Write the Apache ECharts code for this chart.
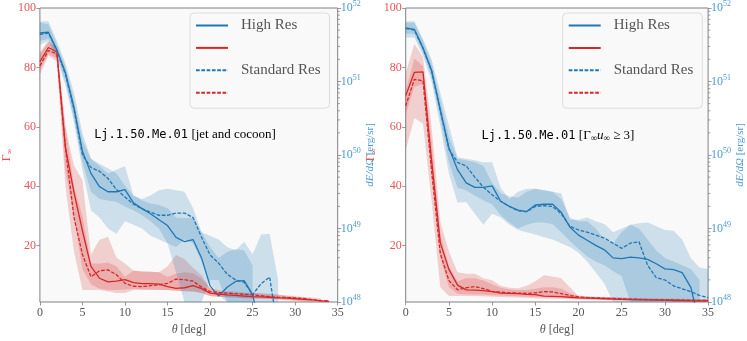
<!DOCTYPE html>
<html>
<head>
<meta charset="utf-8">
<script src="https://cdn.jsdelivr.net/npm/echarts@6/dist/echarts.min.js"></script>
<style>
  html, body { margin: 0; padding: 0; background: #fff; }
  #chart { width: 747px; height: 341px; }
</style>
</head>
<body>
<div id="chart"></div>
<script>
// polar angle, deg
const theta = [0,1,2,3,4,5,6,7,8,9,10,11,12,13,14,15,16,17,18,19,20,21,22,23,24,25,26,27,28,29,30,31,32,33,34,35];

// ---- left panel: jet and cocoon ----
const gamHighL = [81.9,86.7,85.2,53,38,25,13,9,7.8,8,8.5,7.5,7.2,7.2,7,6.2,5.6,5.8,6.5,5.5,4,3.7,3.4,3.2,3.0,2.8,2.7,2.6,2.4,2.3,2.1,1.9,1.7,1.4,1.2,null];
const gamStdL  = [80.5,85.7,84.5,53,29.5,17,9.5,11.5,11.8,10.2,7.3,6.3,6.2,6.5,6.8,7.3,8.7,8.5,8.0,6.0,4.5,4.2,4.0,3.8,3.6,3.4,3.1,2.8,2.6,2.5,2.4,2.2,1.8,1.5,1.3,null];
const gamLoA_L = [79,84.5,83,45,30,12,7,5.5,5,5,5.2,5.5,5.3,5.2,5.1,5,4.8,4.6,4.5,4,3,2.8,2.6,2.5,2.3,2.2,2.1,2,1.9,1.7,1.5,1.3,1.2,null,null,null];
const gamHiA_L = [84.5,88.5,86.5,60,40,30,14,14,14.3,13,9.5,11.5,11.3,11.2,11,9.5,10.5,11,10.7,9,5.6,5,4.6,4.5,4.2,4,3.8,3.6,3.4,3.1,2.8,2.5,2.0,null,null,null];
const gamLoB_L = [77.5,84,82,40,18,5,5,5,4.5,4,4,5,5,5,5,5,4.8,4.6,4.5,4,3,2.8,2.6,2.5,2.3,2.2,2.1,2,1.8,1.6,1.4,1.2,1.1,1,null,null];
const gamHiB_L = [85,89,86.5,60,47,42,17,22,23,16,14,11.6,11.3,11.2,11,13,16.8,15.5,12.5,10,5.6,4.5,4.2,4,4,4,4,3.8,3.5,3.2,2.9,2.7,2.5,2.3,null,null];
// log10 of dE/dOmega [erg/sr]
const dEHighL = [51.66,51.67,51.43,51.12,50.65,50.05,49.75,49.57,49.5,49.5,49.53,49.35,49.27,49.2,49.12,49.04,48.88,48.82,48.85,48.6,48.22,48.08,48.2,48.28,48.29,48.1,47.6,null,null,null,null,null,null,null,null,null];
const dEStdL  = [51.64,51.66,51.42,51.1,50.62,50.0,49.83,49.78,49.68,49.53,49.43,49.33,49.27,49.22,49.18,49.18,49.21,49.21,49.15,48.88,48.64,48.53,48.38,48.3,48.27,48.1,48.25,48.34,47.6,null,null,null,null,null,null,null];
const dELoA_L = [51.55,51.58,51.35,51.0,50.5,49.9,49.5,49.4,49.38,49.36,49.3,49.25,49.18,49.1,49.0,48.8,48.75,48.85,48.8,48.55,48.25,48.1,48,48,48,48,null,null,null,null,null,null,null,null,null,null];
const dEHiA_L = [51.8,51.78,51.5,51.2,50.75,50.2,49.95,49.88,49.82,49.75,49.58,49.45,49.38,49.34,49.32,49.28,49.15,49.14,49.15,48.95,48.75,48.6,48.68,48.72,48.7,48.5,null,null,null,null,null,null,null,null,null,null];
const dELoB_L = [51.5,51.55,51.3,50.95,50.45,49.8,49.25,49.15,49.0,48.93,49.1,49.05,49.0,48.9,48.85,48.8,48.4,48,48,48,48.3,48.3,48,48,48,48,48,48,48,null,null,null,null,null,null,null];
const dEHiB_L = [51.82,51.82,51.55,51.25,50.85,50.3,49.95,49.85,49.75,49.8,49.85,49.45,49.4,49.45,49.52,49.54,49.52,49.5,49.28,48.95,48.9,48.85,48.75,48.7,48.82,48.65,48.92,48.93,48.3,null,null,null,null,null,null,null];

// ---- right panel: Gamma u >= 3 ----
const gamHighR = [70.5,78.3,78.5,48.5,21,12,6.7,5.1,5,4.8,4.5,4,3.9,3.8,3.6,3.5,3.0,2.9,2.8,2.6,2.4,2.3,2.2,2.1,2.0,1.9,1.8,1.7,1.7,1.6,1.6,1.5,1.5,1.4,1.4,1.4];
const gamStdR  = [67,76,75.5,45,17.4,8.2,5.1,5.8,6.2,5.5,4.6,4.3,4.1,4,3.9,4.1,4.5,4.4,3.8,3.2,2.7,2.5,2.4,2.3,2.2,2.1,2.0,1.9,1.8,1.8,1.7,1.7,1.6,1.6,1.5,1.5];
const gamLoA_R = [64,73.5,74.5,44,16,6,3.8,3.6,3.5,3.5,3.3,3.2,3.0,2.9,2.8,2.7,2.6,2.5,2.4,2.2,2.1,2.0,1.9,1.85,1.8,1.75,1.7,1.65,1.6,1.55,1.5,1.45,1.4,1.35,1.3,1.3];
const gamHiA_R = [72,83,80.5,55,24,13,8,9,9,8.2,7,5.8,5.2,5.0,5,5.5,6,6,5.5,4,3,2.8,2.7,2.6,2.5,2.4,2.3,2.2,2.1,2.0,1.95,1.9,1.85,1.8,1.8,1.8];
const gamLoB_R = [52,63,61,35,6,3,3,3,3,2.9,2.8,2.7,2.6,2.5,2.4,2.3,2.2,2.1,2.0,1.9,1.8,1.75,1.7,1.65,1.6,1.55,1.5,1.45,1.4,1.35,1.3,1.25,1.2,1.15,1.1,1.1];
const gamHiB_R = [78,88,83.5,60,28,18,11,10.5,10.5,9,8.3,6.5,5.8,5.6,6.5,8,10,9.6,9,6,3,2.9,2.8,2.7,2.6,2.5,2.4,2.35,2.3,2.25,2.2,2.15,2.1,2.05,2.0,2.0];
const dEHighR = [51.73,51.71,51.46,51.15,50.62,50.1,49.8,49.62,49.56,49.56,49.58,49.37,49.3,49.25,49.23,49.32,49.33,49.33,49.22,49.02,48.91,48.84,48.77,48.71,48.6,48.59,48.61,48.6,48.58,48.52,48.45,48.44,48.4,48.2,47.7,null];
const dEStdR  = [51.72,51.7,51.45,51.14,50.6,50.08,49.9,49.85,49.7,49.56,49.46,49.37,49.3,49.24,49.23,49.3,49.31,49.3,49.2,49.03,48.98,48.95,48.91,48.87,48.8,48.73,48.8,48.82,48.5,48.33,48.3,48.22,48.18,48.14,48.09,48.06];
const dELoA_R = [51.65,51.65,51.4,51.05,50.5,49.9,49.55,49.52,49.45,49.38,49.33,49.18,49.08,49.0,49.05,49.08,49.08,49.06,48.95,48.83,48.72,48.62,48.55,48.5,48.42,48.35,48,48,48,48,48,48,48,48,48,null];
const dEHiA_R = [51.8,51.8,51.55,51.25,50.75,50.25,49.95,49.93,49.9,49.85,49.62,49.48,49.44,49.42,49.5,49.54,49.52,49.5,49.4,49.15,49.1,49.1,49.0,48.85,48.8,48.95,49.05,49.0,48.85,48.7,48.6,48.55,48.5,48.45,48.3,null];
const dELoB_R = [51.6,51.6,51.35,51.0,50.4,49.75,49.35,49.36,49.2,49.05,49.2,49.15,49.05,48.98,48.95,48.92,48.88,48.85,48.8,48.75,48.67,48.55,48.4,48.25,48,48,48,48,48,48,48,48,48,48,48,48];
const dEHiB_R = [51.82,51.82,51.58,51.3,50.85,50.4,49.97,49.95,49.93,49.9,49.9,49.55,49.4,49.5,49.54,49.54,49.52,49.5,49.48,49.12,49.12,49.15,49.1,49.06,48.95,49.0,49.05,49.07,49.08,49.03,48.98,48.97,48.85,48.6,48.47,48.45];

// ticks
const gammaTicks = [20, 40, 60, 80, 100];
const logDecades = [48, 49, 50, 51];
const logMinor = [2, 3, 4, 5, 6, 7, 8, 9];

const RED = '#d62728', BLUE = '#1f77b4';
const RED_T = '#e5545a', BLUE_T = '#4d9bd3';
const SERIF = 'Liberation Serif';
const MONO = 'DejaVu Sans Mono';

const toVal = (v, log) => (v == null ? null : (log ? Math.pow(10, v) : v));

function lineS(name, xi, yi, arr, color, dashed, log) {
  const data = [];
  theta.forEach((t, i) => { if (arr[i] != null) data.push([t, toVal(arr[i], log)]); });
  return {
    type: 'line', name, xAxisIndex: xi, yAxisIndex: yi, data,
    symbol: 'none', z: 5, clip: true,
    lineStyle: { color, width: 1.3, type: dashed ? [3.7, 1.6] : 'solid' },
    itemStyle: { color }
  };
}

function bandS(xi, yi, lo, hi, fill, log) {
  const pts = [];
  theta.forEach((t, i) => {
    if (lo[i] != null && hi[i] != null) pts.push([t, toVal(lo[i], log), toVal(hi[i], log)]);
  });
  return {
    type: 'custom', xAxisIndex: xi, yAxisIndex: yi, data: pts,
    encode: { x: 0, y: [1, 2] }, clip: true, silent: true, z: 2,
    renderItem: (params, api) => {
      if (params.dataIndex !== 0) return null;
      const up = pts.map(p => api.coord([p[0], p[2]]));
      const dn = pts.map(p => api.coord([p[0], p[1]])).reverse();
      return { type: 'polygon', shape: { points: up.concat(dn) }, style: { fill } };
    }
  };
}

function minorTickS(xi, yi) {
  const vals = [];
  logDecades.forEach(d => logMinor.forEach(m => vals.push([35, m * Math.pow(10, d)])));
  return {
    type: 'custom', xAxisIndex: xi, yAxisIndex: yi, data: vals, clip: false, silent: true, z: 3,
    renderItem: (params, api) => {
      const p = api.coord([api.value(0), api.value(1)]);
      return { type: 'line', shape: { x1: p[0], y1: p[1], x2: p[0] + 2.2, y2: p[1] },
        style: { stroke: '#808080', lineWidth: 0.8 } };
    }
  };
}

const RED_F = 'rgba(214,39,40,0.2)', BLUE_F = 'rgba(31,119,180,0.2)';

const chart = echarts.init(document.getElementById('chart'), null, { renderer: 'canvas' });

function xAx(gi) {
  return {
    gridIndex: gi, type: 'value', min: 0, max: 35, interval: 5,
    axisLine: { show: false },
    axisTick: { show: true, inside: false, length: 3.5, lineStyle: { color: '#808080', width: 0.8 } },
    axisLabel: { color: '#555', fontFamily: SERIF, fontSize: 12, margin: 5 },
    splitLine: { show: false },
    name: '{i|θ} [deg]', nameLocation: 'middle', nameGap: 22,
    nameTextStyle: { color: '#555', fontFamily: SERIF, fontSize: 12,
      rich: { i: { fontStyle: 'italic', fontFamily: SERIF, fontSize: 12, color: '#555' } } }
  };
}
function gamAx(gi, gap) {
  return {
    gridIndex: gi, type: 'value', position: 'left', min: 1, max: 100,
    axisLine: { show: false },
    axisTick: { show: true, length: 3.5, customValues: gammaTicks, lineStyle: { color: '#808080', width: 0.8 } },
    axisLabel: { customValues: gammaTicks, color: RED_T, fontFamily: SERIF, fontSize: 12, margin: 4 },
    splitLine: { show: false },
    name: '{g|Γ}{s|∞}', nameLocation: 'middle', nameGap: gap, nameRotate: 90,
    nameTextStyle: { color: RED_T, rich: {
      g: { fontFamily: SERIF, fontSize: 12, color: RED_T },
      s: { fontFamily: SERIF, fontSize: 8, color: RED_T, padding: [6, 0, 0, 0] } } }
  };
}
function dEAx(gi) {
  return {
    gridIndex: gi, type: 'log', logBase: 10, position: 'right', min: 1e48, max: 1e52, splitNumber: 4,
    axisLine: { show: false },
    axisTick: { show: true, length: 3.5, lineStyle: { color: '#808080', width: 0.8 } },
    minorTick: { show: false },
    axisLabel: {
      margin: 3,
      formatter: v => '{b|10}{s|' + Math.round(Math.log10(v)) + '}',
      rich: {
        b: { fontFamily: SERIF, fontSize: 12, color: BLUE_T },
        s: { fontFamily: SERIF, fontSize: 8, color: BLUE_T, padding: [0, 0, 8, 0] }
      }
    },
    splitLine: { show: false },
    name: '{i|dE/d}{r|Ω} [erg/sr]', nameLocation: 'middle', nameGap: 26, nameRotate: 90,
    nameTextStyle: { color: BLUE_T, fontFamily: SERIF, fontSize: 11, rich: {
      i: { fontFamily: SERIF, fontStyle: 'italic', fontSize: 11, color: BLUE_T },
      r: { fontFamily: SERIF, fontStyle: 'italic', fontSize: 11, color: BLUE_T } } }
  };
}
function legendAt(left) {
  return {
    left, top: 13, orient: 'vertical',
    data: ['High Res', ' ', 'Standard Res', '  '],
    itemWidth: 32, itemHeight: 14, itemGap: 7.4,
    padding: [5, 9, 8, 5],
    backgroundColor: '#f9f9f9', borderColor: '#dcdcdc', borderWidth: 1, borderRadius: 4,
    itemStyle: { opacity: 0, borderWidth: 0 },
    textStyle: { fontFamily: SERIF, fontSize: 15, color: '#555', padding: [0, 0, 0, 8], lineHeight: 14 },
    selectedMode: false
  };
}

const series = [
  // left panel
  bandS(0, 0, gamLoB_L, gamHiB_L, RED_F, false),
  bandS(0, 0, gamLoA_L, gamHiA_L, RED_F, false),
  bandS(0, 1, dELoB_L, dEHiB_L, BLUE_F, true),
  bandS(0, 1, dELoA_L, dEHiA_L, BLUE_F, true),
  lineS('High Res', 0, 1, dEHighL, BLUE, false, true),
  lineS(' ', 0, 0, gamHighL, RED, false, false),
  lineS('Standard Res', 0, 1, dEStdL, BLUE, true, true),
  lineS('  ', 0, 0, gamStdL, RED, true, false),
  minorTickS(0, 1),
  // right panel
  bandS(1, 2, gamLoB_R, gamHiB_R, RED_F, false),
  bandS(1, 2, gamLoA_R, gamHiA_R, RED_F, false),
  bandS(1, 3, dELoB_R, dEHiB_R, BLUE_F, true),
  bandS(1, 3, dELoA_R, dEHiA_R, BLUE_F, true),
  lineS('High Res', 1, 3, dEHighR, BLUE, false, true),
  lineS(' ', 1, 2, gamHighR, RED, false, false),
  lineS('Standard Res', 1, 3, dEStdR, BLUE, true, true),
  lineS('  ', 1, 2, gamStdR, RED, true, false),
  minorTickS(1, 3)
];

const annoRich = {
  m: { fontFamily: MONO, fontSize: 12, color: '#444' },
  r: { fontFamily: SERIF, fontSize: 13, color: '#444' },
  it: { fontFamily: SERIF, fontSize: 13, fontStyle: 'italic', color: '#444' },
  sub: { fontFamily: SERIF, fontSize: 9, color: '#444', padding: [6, 0, 0, 0] }
};

chart.setOption({
  animation: false,
  backgroundColor: '#ffffff',
  grid: [
    { left: 32.3, top: 6, width: 305.4, height: 304.7, show: true, backgroundColor: '#f9f9f9', borderColor: '#808080', borderWidth: 1 },
    { left: 405.7, top: 6, width: 305.3, height: 304.7, show: true, backgroundColor: '#f9f9f9', borderColor: '#808080', borderWidth: 1 }
  ],
  xAxis: [xAx(0), xAx(1)],
  yAxis: [gamAx(0, 22), dEAx(0), gamAx(1, 28), dEAx(1)],
  legend: [legendAt(190), legendAt(562.7)],
  graphic: [
    { type: 'text', x: 185, y: 135, z: 10, silent: true,
      style: { text: '{m|Lj.1.50.Me.01} {r|[jet and cocoon]}', rich: annoRich, align: 'center', verticalAlign: 'middle' } },
    { type: 'text', x: 558, y: 136, z: 10, silent: true,
      style: { text: '{m|Lj.1.50.Me.01} {r|[Γ}{sub|∞}{it|u}{sub|∞}{r| ≥ 3]}', rich: annoRich, align: 'center', verticalAlign: 'middle' } }
  ],
  series
});
</script>
</body>
</html>
